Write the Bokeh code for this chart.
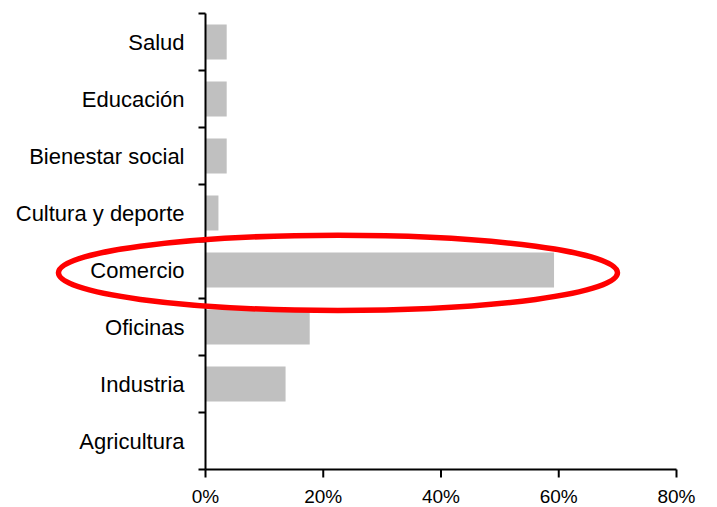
from bokeh.plotting import figure
from bokeh.models import Range1d, ColumnDataSource
from bokeh.core.properties import value
from bokeh.embed import file_html
from bokeh.resources import INLINE

# ---- data ----
categories = ["Salud", "Educación", "Bienestar social", "Cultura y deporte",
              "Comercio", "Oficinas", "Industria", "Agricultura"]
shares = [0.036, 0.036, 0.036, 0.022, 0.592, 0.177, 0.136, 0.0]
x_ticks = [0.0, 0.2, 0.4, 0.6, 0.8]
x_tick_labels = ["0%", "20%", "40%", "60%", "80%"]
highlight = "Comercio"

# ---- layout constants ----
W, H = 712, 507
frame_left_px = 205     # canvas x of the value 0
px_per_unit_x = 588.75  # pixels per 1.0 (100%)
axis_top_px = 13
axis_bottom_px = 469
n = len(categories)
px_per_cat = (axis_bottom_px - axis_top_px) / n

x_start = -frame_left_px / px_per_unit_x
x_end = (W - frame_left_px) / px_per_unit_x
y_end = n + axis_top_px / px_per_cat
y_start = -(H - axis_bottom_px) / px_per_cat

p = figure(width=W, height=H, output_backend="svg", toolbar_location=None,
           x_range=Range1d(x_start, x_end), y_range=Range1d(y_start, y_end),
           min_border=0, x_axis_type=None, y_axis_type=None)
p.outline_line_color = None
p.grid.visible = False
p.background_fill_color = "white"
p.border_fill_color = "white"

centers = [n - 0.5 - i for i in range(n)]
src = ColumnDataSource(dict(y=centers, v=shares, cat=categories))

p.hbar(y="y", left=0, right="v", height=0.61, source=src,
       fill_color="#C0C0C0", line_color=None)

font = value("Liberation Sans")
ax_w = 2

# y axis line and boundary ticks
p.segment(x0=[0], y0=[0], x1=[0], y1=[n], line_color="black", line_width=ax_w)
ytick_len = 7 / px_per_unit_x
bounds = list(range(n + 1))
p.segment(x0=[-ytick_len] * len(bounds), y0=bounds, x1=[0] * len(bounds), y1=bounds,
          line_color="black", line_width=ax_w)

# x axis line and ticks
p.segment(x0=[x_ticks[0]], y0=[0], x1=[x_ticks[-1]], y1=[0], line_color="black", line_width=ax_w)
xtick_len = 8 / px_per_cat
p.segment(x0=x_ticks, y0=[0] * len(x_ticks), x1=x_ticks, y1=[-xtick_len] * len(x_ticks),
          line_color="black", line_width=ax_w)

# category labels
p.text(x=0, y="y", text="cat", source=src, x_offset=-21, text_align="right",
       text_baseline="middle", text_font=font, text_font_size="22px", text_color="#000000")

# x tick labels
p.text(x=x_ticks, y=[0] * len(x_ticks), text=x_tick_labels, y_offset=27,
       text_align="center", text_baseline="middle", text_font=font,
       text_font_size="19px", text_color="#000000")

# highlight ellipse
hi = categories.index(highlight)
p.ellipse(x=[0.225], y=[centers[hi] - 0.05], width=[0.9495], height=[1.32],
          fill_color=None, line_color="#FF0000", line_width=5.5)

open("out.html", "w").write(file_html(p, INLINE))
